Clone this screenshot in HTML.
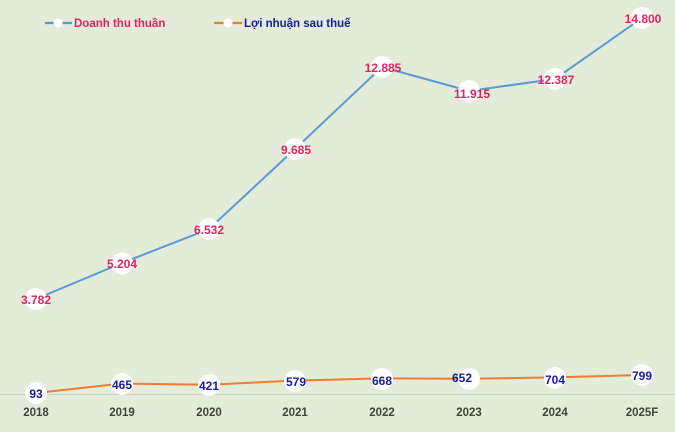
<!DOCTYPE html>
<html><head><meta charset="utf-8"><style>
html,body{margin:0;padding:0;background:#E3EBD9;}
svg{display:block;}
svg text{font-family:"Liberation Sans",Arial,sans-serif;font-weight:700;}
</style></head><body>
<svg width="675" height="432" viewBox="0 0 675 432" xmlns="http://www.w3.org/2000/svg" font-family="Liberation Sans, Arial, sans-serif" font-weight="bold">
<rect width="675" height="432" fill="#E3EBD9"/>
<line x1="0" y1="394.5" x2="675" y2="394.5" stroke="#CDD2C8" stroke-width="1"/>
<!-- legend -->
<line x1="45" y1="23" x2="72" y2="23" stroke="#5B9BD5" stroke-width="2.2"/>
<circle cx="58" cy="23" r="4.5" fill="#fff"/>
<text x="74" y="27" font-size="11.5" font-weight="bold" fill="#E0245E">Doanh thu thuần</text>
<line x1="214" y1="23" x2="242" y2="23" stroke="#ED7D31" stroke-width="2.2"/>
<circle cx="228" cy="23" r="4.5" fill="#fff"/>
<text x="244" y="27" font-size="11.5" font-weight="bold" fill="#1A1AA0">Lợi nhuận sau thuế</text>
<!-- revenue -->
<polyline fill="none" stroke="#5B9BD5" stroke-width="2" points="36,299 122,263 209,229 295,149 382,67 469,91 555,79 642,18"/>
<g fill="#fff">
<circle cx="36" cy="299" r="11"/><circle cx="122" cy="263.5" r="11"/><circle cx="209" cy="229" r="11"/><circle cx="295" cy="149" r="11"/>
<circle cx="382" cy="67" r="11"/><circle cx="469" cy="91" r="11"/><circle cx="555" cy="79" r="11"/><circle cx="642" cy="18" r="11"/>
</g>
<g font-size="12" font-weight="bold" fill="#E0245E" text-anchor="middle">
<text x="36" y="304">3.782</text>
<text x="122" y="268">5.204</text>
<text x="209" y="234">6.532</text>
<text x="296" y="154">9.685</text>
<text x="383" y="72">12.885</text>
<text x="472" y="98">11.915</text>
<text x="556" y="84">12.387</text>
<text x="643" y="23">14.800</text>
</g>
<!-- profit -->
<polyline fill="none" stroke="#ED7D31" stroke-width="2" points="36,393 122,383.5 209,384.7 295,380.6 382,378.4 469,378.8 555,377.4 642,375"/>
<g fill="#fff">
<circle cx="36" cy="393" r="11"/><circle cx="122" cy="384" r="11"/><circle cx="209" cy="385" r="11"/><circle cx="295" cy="381" r="11"/>
<circle cx="382" cy="379" r="11"/><circle cx="469" cy="379" r="11"/><circle cx="555" cy="378" r="11"/><circle cx="642" cy="375" r="11"/>
</g>
<g font-size="12" font-weight="bold" fill="#1A1AA0" text-anchor="middle">
<text x="36" y="398">93</text>
<text x="122" y="389">465</text>
<text x="209" y="390">421</text>
<text x="296" y="386">579</text>
<text x="382" y="385">668</text>
<text x="462" y="382">652</text>
<text x="555" y="384">704</text>
<text x="642" y="380">799</text>
</g>
<!-- x axis -->
<g font-size="11.5" font-weight="bold" fill="#404638" text-anchor="middle">
<text x="36" y="416">2018</text>
<text x="122" y="416">2019</text>
<text x="209" y="416">2020</text>
<text x="295" y="416">2021</text>
<text x="382" y="416">2022</text>
<text x="469" y="416">2023</text>
<text x="555" y="416">2024</text>
<text x="642" y="416">2025F</text>
</g>
</svg>
</body></html>
